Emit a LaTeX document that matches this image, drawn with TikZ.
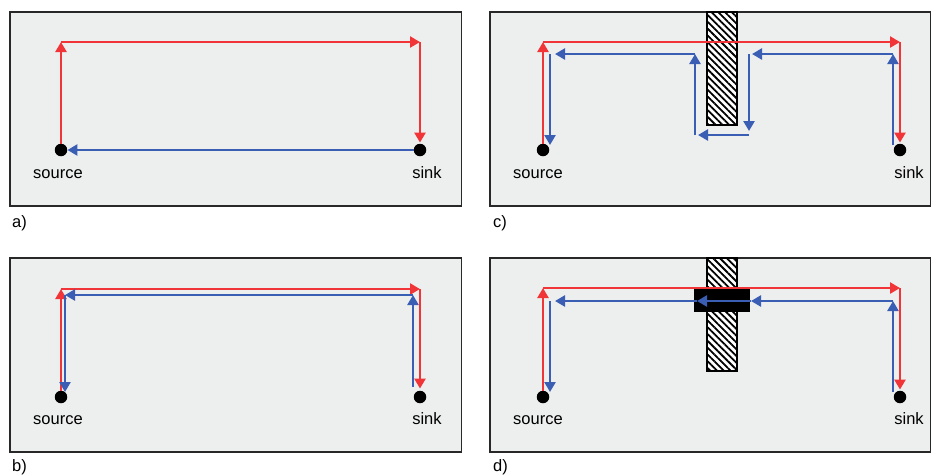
\documentclass[tikz,border=0pt]{standalone}
\usepackage{fontspec}
\setmainfont{Liberation Sans}
\usetikzlibrary{arrows.meta,patterns.meta}
\definecolor{redc}{RGB}{240,52,56}
\definecolor{bluec}{RGB}{58,94,180}
\definecolor{bgc}{RGB}{237,238,238}
\definecolor{framec}{RGB}{40,40,40}
\tikzset{
  panel/.style={draw=framec, line width=1.7pt, fill=bgc},
  dot/.style={circle, fill=black, inner sep=0pt, minimum size=12.5pt},
  lbl/.style={font=\fontsize{16.5}{18}\selectfont, anchor=base, inner sep=0pt},
  tag/.style={font=\fontsize{16.5}{18}\selectfont, anchor=base west, inner sep=0pt},
  tip/.style={-{Triangle[length=10pt,width=11pt]}},
  rarr/.style={draw=redc, line width=2.8pt, tip},
  barr/.style={draw=bluec, line width=2.8pt, tip},
  hatch/.style={draw=black, line width=1.5pt, preaction={fill=white},
    pattern={Lines[angle=-45,distance=4.8pt,line width=1.8pt]}},
  plug/.style={draw=black, fill=black}
}
\begin{document}
\begin{tikzpicture}[x=1pt,y=-1pt]
\useasboundingbox (0,0) rectangle (932,475);
% ---------------- panel a ----------------
\draw[panel] (10,12) rectangle (461.5,206);
\node[dot] (sa) at (61,150) {};
\node[dot] (ka) at (420,150) {};
\node[lbl] (sal) at (58,178) {source};
\node[lbl] (kal) at (427,178) {sink};
\node[tag] (ta) at (12,227) {a)};
\coordinate (a1) at (61,42);
\coordinate (a2) at (420,42);
\draw[rarr] (sa) -- (a1);
\draw[rarr] (a1) -- (a2);
\draw[rarr, shorten >=1pt] (a2) -- (ka);
\draw[barr] (ka) -- (sa);
% ---------------- panel b ----------------
\draw[panel] (10,258) rectangle (461.5,452);
\node[dot] (sb) at (61,397) {};
\node[dot] (kb) at (420,397) {};
\node[lbl] (sbl) at (58,424) {source};
\node[lbl] (kbl) at (427,424) {sink};
\node[tag] (tb) at (12,471) {b)};
\coordinate (b1) at (61,289);
\coordinate (b2) at (420,289);
\coordinate (b3) at (413,387);
\coordinate (b4) at (413,295);
\coordinate (b5) at (65,295);
\coordinate (b6) at (65,392);
\draw[rarr] (sb) -- (b1);
\draw[rarr] (b1) -- (b2);
\draw[rarr, shorten >=2pt] (b2) -- (kb);
\draw[barr] (b3) -- (b4);
\draw[barr] (b4) -- (b5);
\draw[barr] (b5) -- (b6);
% ---------------- panel c ----------------
\draw[panel] (490,12) rectangle (930.5,206);
\draw[hatch] (707,12) rectangle (737,125);
\node[dot] (sc) at (543,150) {};
\node[dot] (kc) at (900,150) {};
\node[lbl] (scl) at (538,178) {source};
\node[lbl] (kcl) at (909,178) {sink};
\node[tag] (tc) at (493,227) {c)};
\coordinate (c1) at (543,42);
\coordinate (c2) at (900,42);
\draw[rarr] (sc) -- (c1);
\draw[rarr] (c1) -- (c2);
\draw[rarr, shorten >=1pt] (c2) -- (kc);
\coordinate (cb0) at (893,145);
\coordinate (cb1) at (893,54);
\coordinate (cb2) at (749,54);
\coordinate (cb3) at (749,135);
\coordinate (cb4) at (695,135);
\coordinate (cb5) at (695,54);
\coordinate (cb6) at (550,54);
\coordinate (cb7) at (550,145);
\draw[barr] (cb0) -- (cb1);
\draw[barr, shorten >=3pt] (cb1) -- (cb2);
\draw[barr, shorten >=4pt] (cb2) -- (cb3);
\draw[barr, shorten >=3pt] (cb3) -- (cb4);
\draw[barr] (cb4) -- (cb5);
\draw[barr, shorten >=5pt] (cb5) -- (cb6);
\draw[barr] (cb6) -- (cb7);
% ---------------- panel d ----------------
\draw[panel] (490,258) rectangle (930.5,452);
\draw[hatch] (707,258) rectangle (737,371);
\draw[plug] (694,289) rectangle (749,311);
\node[dot] (sd) at (543,397) {};
\node[dot] (kd) at (900,397) {};
\node[lbl] (sdl) at (538,424) {source};
\node[lbl] (kdl) at (909,424) {sink};
\node[tag] (td) at (493,471) {d)};
\coordinate (d1) at (543,288);
\coordinate (d2) at (900,288);
\draw[rarr] (sd) -- (d1);
\draw[rarr] (d1) -- (d2);
\draw[rarr, shorten >=1pt] (d2) -- (kd);
\coordinate (db0) at (893,392);
\coordinate (db1) at (893,301);
\coordinate (db2) at (751,301);
\coordinate (db3) at (697,301);
\coordinate (db4) at (550,301);
\coordinate (db5) at (550,392);
\draw[barr] (db0) -- (db1);
\draw[barr] (db1) -- (db2);
\draw[barr] (db2) -- (db3);
\draw[barr, shorten >=5pt] (db3) -- (db4);
\draw[barr] (db4) -- (db5);
\end{tikzpicture}
\end{document}
